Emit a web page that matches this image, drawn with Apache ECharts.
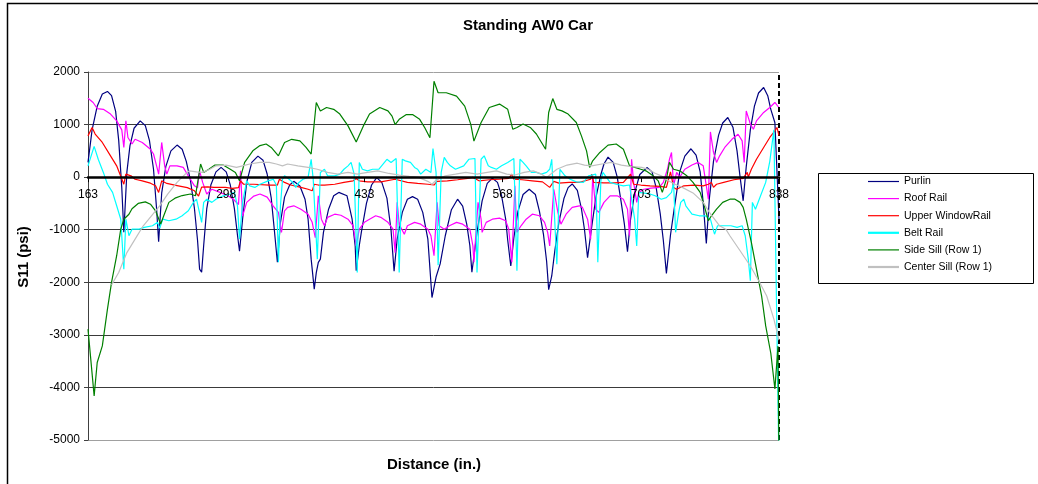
<!DOCTYPE html>
<html><head><meta charset="utf-8">
<script src="https://cdn.jsdelivr.net/npm/echarts@6/dist/echarts.min.js"></script>
<style>html,body{margin:0;padding:0;background:#fff}#c{width:1038px;height:484px}</style>
</head><body><div id="c"></div>
<script>
const chartTitle = 'Standing AW0 Car';
const xTitle = 'Distance (in.)';
const yTitle = 'S11 (psi)';
const xTicks = [163, 298, 433, 568, 703, 838];
const yRange = [-5000, 2000];
const yStep = 1000;
const names = ['Purlin', 'Roof Rail', 'Upper Window Rail', 'Belt Rail', 'Side Sill (Row 1)', 'Center Sill (Row 1)'];
const legendLabels = ['Purlin', 'Roof Rail', 'Upper WindowRail', 'Belt Rail', 'Side Sill (Row 1)', 'Center Sill (Row 1)'];
const colors = ['#000080', '#FF00FF', '#FF0000', '#00FFFF', '#008000', '#C0C0C0'];

const purlin = [[163,280],[167,900],[172,1350],[177,1580],[182,1630],[186,1550],[190,1250],[193,700],[196,-200],[198,-1050],[201,100],[204,600],[208,930],[214,1070],[219,980],[223,700],[227,150],[230,-600],[232,-1230],[235,-300],[239,200],[244,500],[250,610],[255,530],[259,300],[263,-50],[267,-600],[270,-1200],[272,-1750],[274,-1810],[276,-1300],[279,-600],[283,-150],[288,100],[293,185],[298,100],[302,-150],[306,-600],[309,-1100],[311,-1410],[314,-800],[318,-100],[323,280],[329,400],[334,320],[338,60],[342,-400],[345,-1000],[348,-1620],[351,-860],[355,-380],[360,-150],[364,-80],[370,-170],[375,-420],[378,-800],[381,-1560],[384,-2130],[386,-1815],[388,-1620],[390,-1560],[393,-1050],[398,-610],[403,-355],[408,-290],[416,-355],[421,-800],[424,-1310],[425,-1780],[428,-1300],[430,-1050],[435,-500],[440,-150],[445,-10],[450,-100],[455,-400],[459,-1000],[462,-1790],[465,-1180],[470,-670],[475,-420],[480,-370],[485,-420],[490,-670],[495,-1180],[499,-2290],[503,-1900],[507,-1650],[512,-1115],[518,-620],[524,-420],[529,-550],[533,-900],[536,-1300],[538,-1810],[543,-1050],[548,-450],[553,-120],[558,-20],[563,-100],[567,-350],[571,-800],[573,-1200],[576,-1690],[579,-1150],[583,-650],[588,-330],[594,-230],[600,-330],[604,-650],[608,-1100],[611,-1600],[613,-2140],[616,-1880],[619,-1400],[623,-860],[628,-400],[632,-200],[636,-130],[641,-250],[645,-600],[648,-1000],[651,-1530],[655,-950],[659,-400],[664,50],[667,250],[671,380],[676,280],[680,0],[684,-500],[687,-900],[690,-1420],[693,-800],[697,-300],[702,50],[709,182],[714,100],[718,-200],[722,-700],[725,-1200],[728,-1830],[732,-1100],[736,-550],[741,100],[746,400],[752,540],[757,420],[761,100],[764,-500],[767,-1260],[770,-400],[774,300],[779,800],[783,1030],[788,1135],[793,950],[797,500],[800,0],[803,-450],[806,200],[810,900],[814,1350],[818,1600],[823,1705],[827,1550],[830,1290],[834,1035],[838,-800]];

const roofRail = [[163,1500],[168,1420],[172,1305],[178,1290],[185,1200],[191,1070],[196,900],[198,565],[200,1070],[202,755],[206,630],[209,720],[216,660],[224,530],[227,440],[230,215],[232,57],[235,660],[238,200],[240,57],[243,215],[250,215],[256,185],[261,25],[267,-165],[270,-200],[272,120],[275,-100],[279,-320],[284,-230],[292,-290],[300,-360],[305,-420],[310,-520],[312,120],[314,-740],[318,-480],[325,-360],[331,-320],[338,-380],[344,-550],[349,-670],[352,-1050],[355,-640],[358,-575],[364,-545],[371,-610],[378,-705],[382,-860],[385,-1150],[388,-355],[391,-800],[394,-925],[397,-765],[404,-705],[410,-725],[417,-800],[422,-925],[425,-1310],[428,-990],[433,-860],[438,-800],[444,-735],[449,-765],[456,-860],[461,-990],[463,-1435],[465,-480],[467,-895],[472,-1085],[475,-925],[482,-860],[488,-895],[495,-990],[498,-1115],[501,-1495],[504,-480],[506,-925],[511,-990],[516,-925],[523,-860],[529,-895],[536,-990],[539,-1310],[540,-1620],[544,-480],[547,-800],[548,-1050],[552,-860],[558,-800],[565,-780],[571,-830],[574,-990],[577,-1620],[580,-165],[582,-1050],[586,-925],[591,-800],[597,-705],[604,-735],[609,-860],[612,-1050],[614,-1310],[618,-230],[622,-670],[625,-895],[630,-705],[636,-575],[643,-545],[646,-575],[651,-800],[654,-1180],[656,25],[659,-610],[662,-670],[667,-480],[673,-355],[680,-355],[686,-420],[690,-610],[692,-1115],[694,340],[696,-100],[699,-480],[701,-290],[706,-230],[713,-210],[721,-195],[725,-100],[729,150],[731,340],[733,470],[735,-165],[738,90],[741,0],[746,150],[753,230],[759,280],[764,215],[769,-420],[771,860],[774,470],[777,280],[780,405],[785,565],[792,720],[798,815],[802,690],[804,280],[806,1260],[810,1010],[813,910],[816,1070],[823,1230],[829,1325],[834,1420],[838,1320]];

const upperWindowRail = [[163,785],[167,945],[170,820],[177,660],[185,405],[191,215],[198,-135],[200,57],[205,25],[209,-40],[216,-70],[224,-115],[229,-165],[232,-290],[235,-70],[240,-120],[250,-160],[260,-200],[267,-260],[271,-360],[274,-190],[280,-185],[286,-195],[297,-195],[304,-215],[310,-200],[312,-70],[315,-135],[325,-135],[340,-150],[348,-150],[350,-40],[355,-100],[361,-150],[371,-195],[378,-230],[382,-260],[384,-135],[388,-150],[394,-150],[404,-135],[413,-100],[422,-70],[425,-25],[428,-70],[436,-90],[449,-90],[463,-40],[475,-100],[485,-120],[495,-135],[501,-150],[504,-80],[514,-70],[524,-50],[534,-25],[539,-5],[545,-70],[555,-50],[565,-40],[574,-25],[577,57],[579,-40],[587,-50],[597,-70],[607,-90],[614,-195],[618,-80],[623,-115],[633,-100],[643,-100],[654,-40],[655,57],[657,-100],[667,-110],[677,-110],[686,-100],[693,57],[696,-135],[703,-150],[712,-165],[722,-175],[728,-195],[732,100],[735,-195],[738,-230],[745,-165],[755,-150],[764,-165],[769,-135],[772,-100],[774,-195],[777,-135],[784,-100],[794,-50],[803,-25],[807,90],[808,0],[811,150],[816,340],[823,565],[829,755],[834,880],[836,945],[838,790]];

const beltRail = [[163,215],[169,585],[173,340],[178,90],[182,-135],[187,-290],[191,-545],[195,-800],[198,-1750],[200,-800],[203,-1115],[206,-990],[213,-990],[218,-955],[226,-925],[231,-860],[233,-975],[236,-800],[242,-830],[249,-800],[255,-735],[258,-685],[261,-640],[266,-480],[269,-420],[274,-860],[276,-480],[279,-420],[284,-480],[288,-420],[295,-355],[302,-320],[306,-290],[309,-545],[311,-1180],[314,-480],[318,-70],[321,-165],[326,-195],[331,-135],[339,-70],[344,-40],[347,-150],[349,-1620],[351,-545],[353,-40],[355,25],[358,-15],[363,-100],[366,-195],[369,-100],[373,-40],[378,-5],[381,340],[383,-40],[387,-1560],[390,90],[394,150],[397,25],[404,25],[409,57],[413,150],[417,215],[420,280],[423,57],[426,-1815],[428,280],[431,150],[436,120],[441,150],[447,150],[455,340],[459,280],[464,355],[467,-1815],[470,340],[473,310],[478,280],[482,185],[485,150],[488,57],[493,150],[498,90],[500,545],[503,90],[505,-1675],[508,90],[511,375],[514,280],[517,215],[522,150],[530,215],[535,340],[541,355],[543,-1815],[547,340],[550,405],[554,215],[557,185],[562,150],[567,215],[573,280],[579,355],[582,-1780],[585,340],[588,280],[591,215],[596,90],[601,90],[606,57],[611,90],[614,150],[616,340],[621,-1655],[624,150],[629,25],[634,-40],[640,-90],[647,-100],[652,25],[659,57],[661,-1620],[664,-70],[666,90],[673,-100],[679,-135],[686,-165],[692,-150],[697,-800],[699,-1310],[701,-290],[712,-320],[717,-355],[723,-420],[728,-390],[733,-290],[735,-100],[737,-1050],[740,-670],[742,-480],[745,-420],[747,-545],[753,-705],[760,-735],[766,-735],[771,-800],[775,-1085],[778,-925],[784,-925],[791,-925],[797,-955],[802,-925],[805,-1115],[808,-1560],[810,-1970],[812,-480],[815,-610],[820,-355],[825,-100],[829,300],[833,900],[838,-5500]];

const sideSill = [[163,-2890],[169,-4160],[172,-3525],[177,-3210],[182,-2510],[186,-2000],[191,-1495],[195,-990],[198,-800],[203,-705],[206,-600],[212,-500],[219,-470],[224,-515],[229,-640],[234,-890],[237,-735],[242,-480],[248,-400],[255,-350],[263,-320],[268,-355],[273,250],[276,90],[281,150],[287,230],[295,230],[302,150],[307,90],[311,-70],[316,280],[324,500],[331,600],[337,630],[342,565],[349,405],[355,660],[362,720],[370,690],[376,565],[381,440],[386,1420],[390,1260],[396,1325],[403,1290],[409,1200],[417,975],[425,670],[432,975],[438,1200],[448,1325],[456,1260],[460,1160],[463,1000],[467,1100],[474,1190],[480,1190],[487,1100],[492,940],[497,750],[501,1825],[505,1605],[513,1605],[523,1540],[531,1350],[537,1000],[540,685],[547,1040],[555,1325],[565,1390],[573,1290],[578,910],[582,945],[588,1010],[595,945],[601,820],[606,660],[610,530],[613,1230],[617,1495],[621,1290],[626,1260],[632,1200],[640,1040],[645,785],[650,500],[653,185],[656,310],[663,470],[671,610],[679,630],[686,530],[689,375],[692,215],[698,180],[703,150],[708,120],[715,25],[720,-70],[724,-290],[728,-40],[731,280],[735,150],[741,120],[748,25],[754,-100],[761,-290],[765,-545],[769,-830],[772,-735],[777,-610],[783,-480],[790,-420],[795,-420],[800,-480],[803,-575],[806,-800],[811,-1240],[816,-1750],[821,-2260],[825,-2830],[830,-3350],[834,-4030],[837,-3215],[838,-5500]];

const centerSill = [[186,-2050],[193,-1815],[201,-1435],[209,-1180],[217,-925],[225,-735],[233,-545],[241,-320],[250,-100],[258,57],[262,120],[269,100],[275,90],[282,150],[288,215],[298,230],[308,185],[314,215],[321,250],[331,280],[340,280],[347,250],[353,215],[358,250],[368,215],[378,185],[387,150],[397,90],[407,57],[417,90],[426,57],[436,90],[446,120],[457,70],[467,40],[477,15],[486,-5],[496,-90],[499,-135],[503,-60],[512,25],[522,57],[532,90],[543,57],[553,90],[562,120],[572,57],[580,40],[589,90],[598,120],[606,57],[611,-5],[621,150],[631,230],[641,265],[648,230],[655,215],[665,250],[674,280],[684,230],[694,200],[704,185],[710,150],[717,75],[723,25],[730,-70],[736,-130],[744,-200],[754,-300],[764,-480],[770,-670],[780,-925],[786,-990],[790,-1115],[800,-1400],[810,-1690],[819,-2000],[826,-2260],[833,-2700],[838,-3100]];

const seriesData = [purlin, roofRail, upperWindowRail, beltRail, sideSill, centerSill];
const FONT = '"Liberation Sans", Arial, sans-serif';

const GRID = { left: 88, right: 259, top: 72, bottom: 44 };
const gridH = 484 - GRID.top - GRID.bottom;
// distance of the zero line above the bottom of the plot, from the y scale
const zeroOffset = gridH * (0 - yRange[0]) / (yRange[1] - yRange[0]);

const chart = echarts.init(document.getElementById('c'), null, {renderer: 'canvas'});

const splitColors = [];
for (let v = yRange[0]; v <= yRange[1]; v += yStep) {
  splitColors.push((v === yRange[0] || v === yRange[1]) ? '#a0a0a0' : '#3a3a3a');
}

const series = seriesData.map((d, i) => ({
  name: legendLabels[i],
  type: 'line',
  data: d,
  symbol: 'none',
  showSymbol: false,
  lineStyle: { color: colors[i], width: 1.2 },
  itemStyle: { color: colors[i] },
  clip: true,
  animation: false,
  silent: true,
  z: 3 + i
}));
series[5].markLine = {
  silent: true,
  symbol: 'none',
  label: { show: false },
  animation: false,
  lineStyle: { color: '#000', type: [5, 3], width: 2 },
  data: [{ xAxis: xTicks[xTicks.length - 1] }]
};

chart.setOption({
  animation: false,
  backgroundColor: '#ffffff',
  textStyle: { fontFamily: FONT },
  grid: { left: GRID.left, right: GRID.right, top: GRID.top, bottom: GRID.bottom, containLabel: false, outerBoundsMode: 'none', show: false },
  xAxis: {
    type: 'value',
    min: xTicks[0],
    max: xTicks[xTicks.length - 1],
    position: 'bottom',
    offset: -zeroOffset,
    z: 20,
    axisLine: { onZero: false, lineStyle: { color: '#000', width: 2.5 } },
    axisTick: { show: true, customValues: xTicks, length: 5, inside: false, lineStyle: { color: '#000', width: 1 } },
    axisLabel: { customValues: xTicks, color: '#000', fontSize: 12, fontFamily: FONT, margin: 12, showMinLabel: true, showMaxLabel: true, formatter: v => String(v) },
    splitLine: { show: false }
  },
  yAxis: {
    type: 'value',
    min: yRange[0],
    max: yRange[1],
    interval: yStep,
    axisLine: { show: true, onZero: false, lineStyle: { color: '#404040', width: 1 } },
    axisTick: { show: true, length: 4, lineStyle: { color: '#404040' } },
    axisLabel: { color: '#000', fontSize: 12, fontFamily: FONT, margin: 8, formatter: v => String(v) },
    splitLine: { show: true, lineStyle: { color: splitColors, width: 1 } }
  },
  legend: {
    show: true,
    orient: 'vertical',
    left: 868,
    top: 176,
    itemWidth: 31,
    itemHeight: 12,
    itemGap: 6.1,
    padding: 0,
    selectedMode: false,
    textStyle: { color: '#000', fontSize: 10.5, fontFamily: FONT },
    data: legendLabels.map((n, i) => ({
      name: n,
      icon: 'path://M0,5 L31,5 L31,' + ((i === 3 || i === 5) ? '7.2' : '6.2') + ' L0,' + ((i === 3 || i === 5) ? '7.2' : '6.2') + ' Z',
      itemStyle: { color: colors[i], borderWidth: 0 }
    }))
  },
  graphic: [
    { type: 'rect', shape: { x: 7.5, y: 3.5, width: 1040, height: 500 }, style: { fill: 'none', stroke: '#000', lineWidth: 1.5 }, silent: true, z: -1 },
    { type: 'rect', shape: { x: 818.5, y: 173.5, width: 215, height: 110 }, style: { fill: '#fff', stroke: '#000', lineWidth: 1 }, silent: true, z: -1 },
    { type: 'text', x: 528, y: 26, style: { text: chartTitle, font: 'bold 15px ' + FONT, fill: '#000', textAlign: 'center', textVerticalAlign: 'middle' }, silent: true },
    { type: 'text', x: 434, y: 465, style: { text: xTitle, font: 'bold 15px ' + FONT, fill: '#000', textAlign: 'center', textVerticalAlign: 'middle' }, silent: true },
    { type: 'text', x: 24, y: 257, rotation: Math.PI / 2, style: { text: yTitle, font: 'bold 15px ' + FONT, fill: '#000', textAlign: 'center', textVerticalAlign: 'middle' }, silent: true }
  ],
  series: series
});
</script>
</body></html>
